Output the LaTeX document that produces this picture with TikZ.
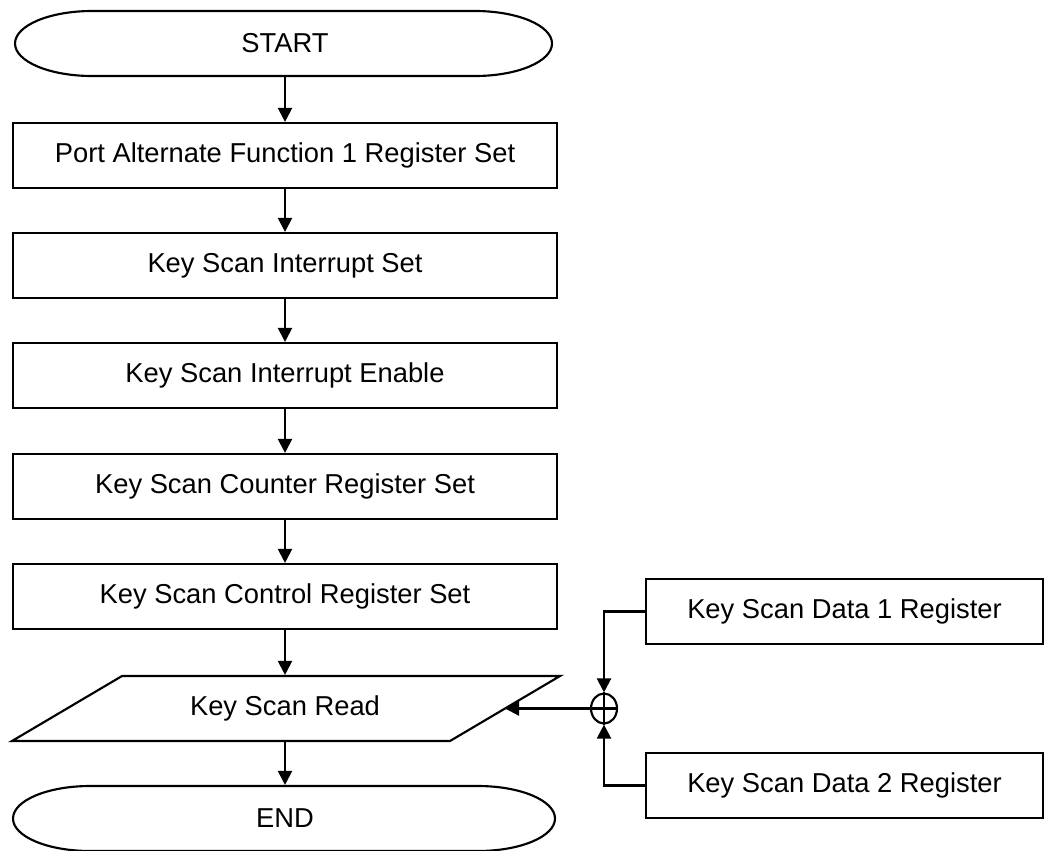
\documentclass[tikz,border=0pt]{standalone}
\usepackage{fontspec}
\setmainfont{Liberation Sans}
\usetikzlibrary{arrows.meta,shapes.geometric}
\begin{document}
\begin{tikzpicture}[x=0.75pt,y=-0.75pt,
  line width=1.6pt,
  every node/.style={font=\fontsize{20.5}{24}\selectfont, inner sep=0pt},
  procbox/.style={draw, rectangle, minimum width=408pt, minimum height=48.75pt},
  databox/.style={draw, rectangle, minimum width=297.75pt, minimum height=48.75pt},
  termbox/.style={rectangle, minimum width=403pt, minimum height=48.75pt},
  iobox/.style={rectangle, minimum width=300pt, minimum height=48.75pt},
  junction/.style={draw, ellipse, minimum width=19.5pt, minimum height=22.5pt},
  arr/.style={-{Triangle[length=10.5pt,width=10.5pt]}}]
\useasboundingbox (0,0) rectangle (1048,850);
\fill[white] (0,0) rectangle (1048,850);

% terminals
\node[termbox] (start) at (285,43.5) {START};
\draw (92,11) -- (475,11) arc[start angle=90,end angle=-90,x radius=57.75pt,y radius=24.375pt]
  -- (92,76) arc[start angle=270,end angle=90,x radius=57.75pt,y radius=24.375pt] -- cycle;

\node[termbox] (end) at (285,818.5) {END};
\draw (90,786) -- (478,786) arc[start angle=90,end angle=-90,x radius=57.75pt,y radius=24.375pt]
  -- (90,851) arc[start angle=270,end angle=90,x radius=57.75pt,y radius=24.375pt] -- cycle;

% process boxes
\node[procbox] (b1) at (285,155.5) {Port Alternate Function 1 Register Set};
\node[procbox] (b2) at (285,265.5) {Key Scan Interrupt Set};
\node[procbox] (b3) at (285,375.5) {Key Scan Interrupt Enable};
\node[procbox] (b4) at (285,486.5) {Key Scan Counter Register Set};
\node[procbox] (b5) at (285,596.5) {Key Scan Control Register Set};

% input/output
\node[iobox] (read) at (285,708.5) {Key Scan Read};
\draw (12,741) -- (122,676) -- (560,676) -- (450,741) -- cycle;
\coordinate (readR) at (505,708.5);

% data registers
\node[databox] (d1) at (844.5,611.5) {Key Scan Data 1 Register};
\node[databox] (d2) at (844.5,785.5) {Key Scan Data 2 Register};

% summing junction
\node[junction] (j) at (604,708.5) {};
\draw (j.north) -- (j.south);
\draw (j.west) -- (j.east);

% connectors
\draw[arr] (start.south) -- (b1.north);
\draw[arr] (b1.south) -- (b2.north);
\draw[arr] (b2.south) -- (b3.north);
\draw[arr] (b3.south) -- (b4.north);
\draw[arr] (b4.south) -- (b5.north);
\draw[arr] (b5.south) -- (read.north);
\draw[arr] (read.south) -- (end.north);
\draw[arr] (d1.west) -| (j.north);
\draw[arr] (d2.west) -| (j.south);
\draw[arr] (j.west) -- (readR);
\end{tikzpicture}
\end{document}
